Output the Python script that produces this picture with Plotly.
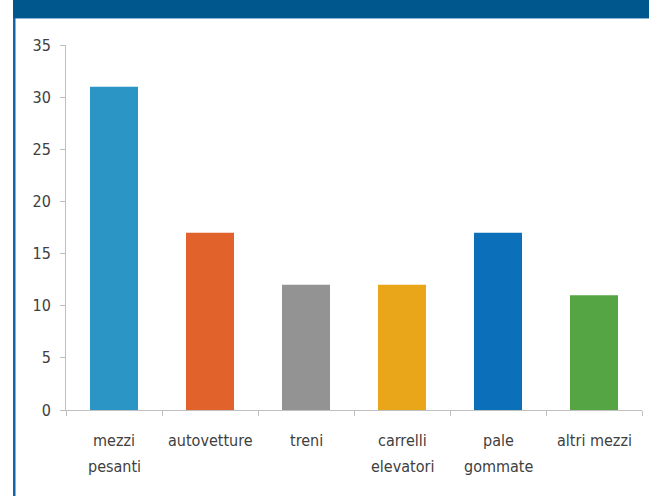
import plotly.graph_objects as go

categories = ["mezzi pesanti", "autovetture", "treni", "carrelli elevatori", "pale gommate", "altri mezzi"]
label_lines = [["mezzi", "pesanti"], ["autovetture"], ["treni"], ["carrelli", "elevatori"], ["pale", "gommate"], ["altri mezzi"]]
values = [31, 17, 12, 12, 17, 11]
colors = ["#2B95C6", "#E2622C", "#939393", "#E9A61A", "#0B70B9", "#56A545"]
y_ticks = [0, 5, 10, 15, 20, 25, 30, 35]

W, H = 649, 496
ML, MR, MT, MB = 66, 7, 45, 86
PW, PH = W - ML - MR, H - MT - MB

def px(x):
    return (x - ML) / PW

def py(y):
    return 1 - (y - MT) / PH

fig = go.Figure(go.Bar(
    x=categories, y=values, marker=dict(color=colors, line=dict(width=0)),
    width=0.5, hoverinfo="x+y"))

font_fam = "DejaVu Sans Condensed, Roboto, sans-serif"

annotations = []
for cat, lines in zip(categories, label_lines):
    for i, ln in enumerate(lines):
        annotations.append(dict(
            text=ln, xref="x", yref="paper", x=cat, y=py(440 + 26 * i),
            xanchor="center", yanchor="middle", showarrow=False,
            font=dict(family=font_fam, size=16, color="#404040")))

fig.update_layout(
    width=W, height=H, margin=dict(l=ML, r=MR, t=MT, b=MB),
    paper_bgcolor="white", plot_bgcolor="white", showlegend=False,
    font=dict(family=font_fam, size=15, color="#404040"),
    xaxis=dict(showgrid=False, showline=True, linecolor="#BFBFBF", linewidth=1,
               ticks="outside", tickson="boundaries", ticklen=5, tickcolor="#BFBFBF",
               showticklabels=False, fixedrange=True),
    yaxis=dict(range=[0, 35], tickvals=y_ticks, showgrid=False, zeroline=False,
               showline=True, linecolor="#BFBFBF", linewidth=1,
               ticks="outside", ticklen=5, tickcolor="#BFBFBF",
               ticklabelstandoff=6,
               tickfont=dict(size=16, color="#404040"), fixedrange=True),
    annotations=annotations,
    shapes=[
        dict(type="rect", xref="paper", yref="paper", x0=px(13), x1=px(W + 2),
             y0=py(18), y1=py(-2), fillcolor="#00578E", line=dict(width=0), layer="above"),
        dict(type="line", xref="paper", yref="paper", x0=px(13), x1=px(W + 2),
             y0=py(18.5), y1=py(18.5), line=dict(color="#8DB3D3", width=1)),
        dict(type="rect", xref="paper", yref="paper", x0=px(13), x1=px(15.5),
             y0=py(H + 2), y1=py(18), fillcolor="#1565A6", line=dict(width=0)),
    ],
)

fig.write_html("out.html")
